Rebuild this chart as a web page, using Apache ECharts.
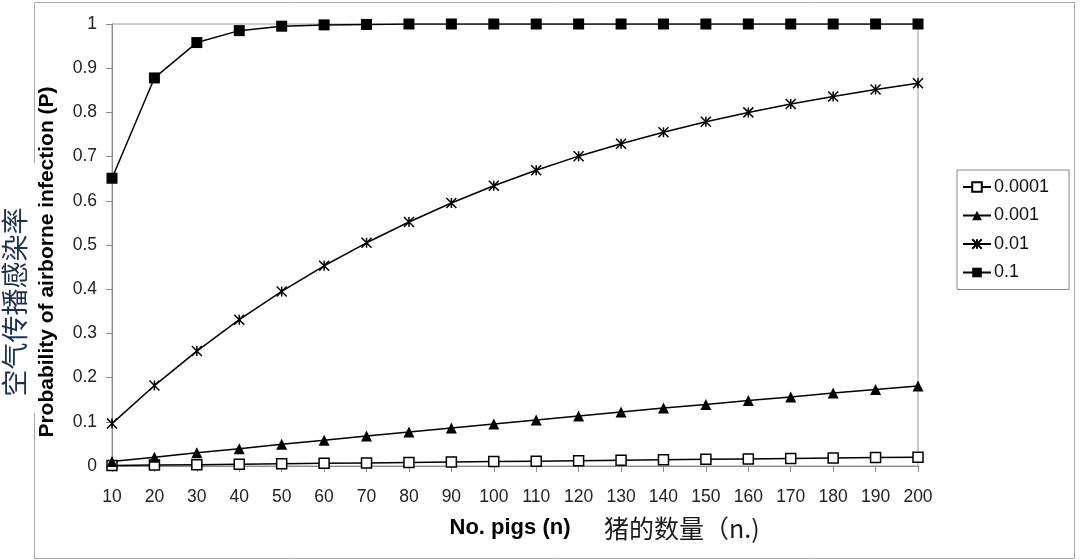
<!DOCTYPE html>
<html>
<head>
<meta charset="utf-8">
<script src="https://cdn.jsdelivr.net/npm/echarts@6/dist/echarts.min.js"></script>
<style>html,body{margin:0;padding:0;background:#fff}#c{width:1080px;height:560px}</style>
</head>
<body>
<div id="c"></div>
<script>
var pigs = [10,20,30,40,50,60,70,80,90,100,110,120,130,140,150,160,170,180,190,200];
var p0001 = [0.001,0.002,0.003,0.004,0.005,0.006,0.007,0.008,0.009,0.010,0.011,0.012,0.013,0.014,0.015,0.016,0.017,0.018,0.019,0.020];
var p001 = [0.010,0.020,0.030,0.039,0.049,0.058,0.068,0.077,0.086,0.095,0.104,0.113,0.122,0.131,0.139,0.148,0.156,0.165,0.173,0.181];
var p01 = [0.096,0.182,0.260,0.331,0.395,0.453,0.505,0.552,0.595,0.634,0.669,0.701,0.729,0.755,0.779,0.800,0.819,0.836,0.852,0.866];
var p1 = [0.651,0.878,0.958,0.985,0.995,0.998,0.999,1,1,1,1,1,1,1,1,1,1,1,1,1];
var seriesNames = ['0.0001','0.001','0.01','0.1'];

function pairs(vals){ return pigs.map(function(x,i){ return [x, vals[i]]; }); }

var font = '"Liberation Sans", Arial, sans-serif';
var chart = echarts.init(document.getElementById('c'));
var baseLine = {type:'line', lineStyle:{color:'#000', width:1.5}, symbolSize:11, z:3};

chart.setOption({
  animation:false,
  backgroundColor:'#fff',
  grid:{left:112, right:162, top:24, bottom:94, show:true, borderColor:'#9a9a9a', borderWidth:1},
  xAxis:{type:'value', min:10, max:200, interval:10,
    axisLine:{lineStyle:{color:'#8a8a8a', width:1}},
    axisTick:{length:6, lineStyle:{color:'#8a8a8a'}},
    splitLine:{show:false},
    axisLabel:{color:'#222', fontSize:17.5, fontFamily:font, margin:22}},
  yAxis:{type:'value', min:0, max:1, interval:0.1,
    axisLine:{show:true, lineStyle:{color:'#8a8a8a', width:1}},
    axisTick:{show:true, length:6, lineStyle:{color:'#8a8a8a'}},
    splitLine:{show:false},
    axisLabel:{color:'#222', fontSize:17.5, fontFamily:font, margin:15}},
  legend:{orient:'vertical', left:957, top:170, 
    padding:[8,20,8,5], itemGap:10.5, itemWidth:28, itemHeight:12,
    borderColor:'#888', borderWidth:1, backgroundColor:'#fff',
    textStyle:{color:'#111', fontSize:18, fontFamily:font, padding:[0,0,0,-2]},
    data:seriesNames},
  series:[
    Object.assign({}, baseLine, {name:seriesNames[0], data:pairs(p0001), symbol:'rect', symbolSize:10,
      itemStyle:{color:'#fff', borderColor:'#000', borderWidth:1.5}}),
    Object.assign({}, baseLine, {name:seriesNames[1], data:pairs(p001), symbol:'triangle', symbolSize:11,
      itemStyle:{color:'#000', borderColor:'#000', borderWidth:0}}),
    Object.assign({}, baseLine, {name:seriesNames[2], data:pairs(p01),
      symbol:'path://M0,0L10,10M10,0L0,10M5,0L5,10', symbolSize:10,
      itemStyle:{color:'none', borderColor:'#000', borderWidth:1.5}}),
    Object.assign({}, baseLine, {name:seriesNames[3], data:pairs(p1), symbol:'rect', symbolSize:11,
      itemStyle:{color:'#000', borderColor:'#000', borderWidth:0}})
  ],
  graphic:[
    {type:'rect', left:32, top:0, z:0, silent:true, shape:{width:1040, height:556},
      style:{fill:'none', stroke:'#a8a8a8', lineWidth:1}},
    {type:'rect', left:0, top:163, z:1, silent:true, shape:{width:40, height:250},
      style:{fill:'#fff', stroke:'none'}},
    {type:'text', z:5, x:47, y:262, rotation:Math.PI/2, silent:true,
      style:{text:'Probability of airborne infection (P)', fill:'#000',
        font:'bold 21px "Liberation Sans", Arial, sans-serif', textAlign:'center', textVerticalAlign:'middle'}},
    {type:'text', z:5, x:15, y:302, rotation:Math.PI/2, silent:true,
      style:{text:'空气传播感染率', fill:'#1f2f4c',
        font:'27px "Noto Sans CJK SC", sans-serif', textAlign:'center', textVerticalAlign:'middle'}},
    {type:'text', z:5, x:510, y:528, silent:true,
      style:{text:'No. pigs (n)', fill:'#000',
        font:'bold 22px "Liberation Sans", Arial, sans-serif', textAlign:'center', textVerticalAlign:'middle'}},
    {type:'text', z:5, x:604, y:528, silent:true,
      style:{text:'猪的数量（n.)', fill:'#1a1a1a',
        font:'25px "Noto Sans CJK SC", sans-serif', textAlign:'left', textVerticalAlign:'middle'}}
  ]
});
</script>
</body>
</html>
